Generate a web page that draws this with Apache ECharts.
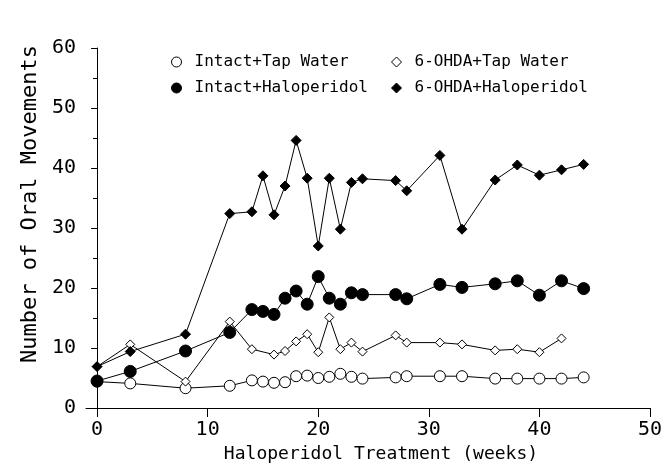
<!DOCTYPE html>
<html>
<head>
<meta charset="utf-8">
<script src="https://cdn.jsdelivr.net/npm/echarts@6/dist/echarts.min.js"></script>
<style>
  html, body { margin: 0; padding: 0; background: #fff; }
  #chart { width: 666px; height: 469px; }
</style>
</head>
<body>
<div id="chart"></div>
<script>
// weeks of haloperidol treatment (x values shared by all groups)
const weeks = [0, 3, 8, 12, 14, 15, 16, 17, 18, 19, 20, 21, 22, 23, 24, 27, 28, 31, 33, 36, 38, 40, 42, 44];

// mean oral movements per group, null = no point at that week
const intactTap  = [4.4, 4.1, 3.3, 3.7, 4.6, 4.4, 4.2, 4.3, 5.3, 5.4, 5.0, 5.2, 5.7, 5.2, 4.9, 5.1, 5.3, 5.3, 5.3, 4.9, 4.9, 4.9, 4.9, 5.1];
const intactHalo = [4.5, 6.1, 9.5, 12.6, 16.4, 16.1, 15.6, 18.3, 19.5, 17.3, 21.9, 18.3, 17.3, 19.2, 18.9, 18.9, 18.2, 20.6, 20.1, 20.7, 21.2, 18.8, 21.2, 19.9];
const ohdaTap    = [6.9, 10.6, 4.4, 14.4, 9.8, null, 8.9, 9.5, 11.1, 12.3, 9.3, 15.1, 9.8, 10.9, 9.4, 12.1, 10.9, 10.9, 10.6, 9.6, 9.8, 9.3, 11.6, null];
const ohdaHalo   = [6.9, 9.4, 12.3, 32.4, 32.7, 38.7, 32.2, 37.0, 44.6, 38.3, 27.0, 38.3, 29.8, 37.6, 38.2, 37.9, 36.2, 42.1, 29.8, 38.0, 40.5, 38.8, 39.7, 40.6];

const xTicks = [0, 10, 20, 30, 40, 50];

const font = 'DejaVu Sans Mono';

function pairs(vals) {
    const out = [];
    weeks.forEach((w, i) => {
        if (vals[i] != null) out.push([w, vals[i]]);
    });
    return out;
}

function makeSeries(name, vals, symbol, size, fill, z) {
    return {
        name: name,
        type: 'line',
        data: pairs(vals),
        symbol: symbol,
        symbolSize: size,
        showSymbol: true,
        z: z,
        lineStyle: { color: '#000', width: 1 },
        itemStyle: { color: fill, borderColor: '#000', borderWidth: 1, opacity: 1 },
        emphasis: { disabled: true }
    };
}

const chart = echarts.init(document.getElementById('chart'));

const legendText = { fontFamily: font, fontSize: 16, color: '#000', lineHeight: 20, padding: [0, 0, 0, 8] };

chart.setOption({
    animation: false,
    backgroundColor: '#fff',
    grid: { left: 86, right: 16, top: 48, bottom: 61 },
    legend: [
        {
            left: 171, top: 52, orient: 'vertical', padding: 0,
            itemWidth: 10, itemHeight: 10, itemGap: 6, selectedMode: false,
            itemStyle: { borderWidth: 1 },
            textStyle: legendText,
            data: [{ name: 'Intact+Tap Water', icon: 'circle' }, { name: 'Intact+Haloperidol', icon: 'circle' }]
        },
        {
            left: 391, top: 52, orient: 'vertical', padding: 0,
            itemWidth: 10, itemHeight: 10, itemGap: 6, selectedMode: false,
            itemStyle: { borderWidth: 1 },
            textStyle: legendText,
            data: [{ name: '6-OHDA+Tap Water', icon: 'diamond' }, { name: '6-OHDA+Haloperidol', icon: 'diamond' }]
        }
    ],
    xAxis: {
        type: 'value',
        min: -1,
        max: 50,
        name: 'Haloperidol Treatment (weeks)',
        nameLocation: 'middle',
        nameGap: 30,
        nameTextStyle: { fontFamily: font, fontSize: 18, color: '#000', padding: [0, 0, 0, 26] },
        axisLine: { show: true, lineStyle: { color: '#000', width: 1 } },
        axisTick: { show: true, length: 9, customValues: xTicks, lineStyle: { color: '#000' } },
        axisLabel: { customValues: xTicks, margin: 12, fontFamily: font, fontSize: 20, color: '#000' },
        splitLine: { show: false }
    },
    yAxis: {
        type: 'value',
        min: 0,
        max: 60,
        interval: 10,
        name: 'Number of Oral Movements',
        nameLocation: 'middle',
        nameGap: 38,
        nameTextStyle: { fontFamily: font, fontSize: 22, color: '#000', padding: [0, 0, 0, 48] },
        axisLine: { show: true, lineStyle: { color: '#000', width: 1 } },
        axisTick: { show: true, length: 6, lineStyle: { color: '#000' } },
        minorTick: { show: true, splitNumber: 2, length: 4, lineStyle: { color: '#000' } },
        axisLabel: { margin: 10, fontFamily: font, fontSize: 20, color: '#000' },
        splitLine: { show: false }
    },
    series: [
        makeSeries('Intact+Tap Water', intactTap, 'circle', 11, '#fff', 2),
        makeSeries('6-OHDA+Tap Water', ohdaTap, 'diamond', 9, '#fff', 3),
        makeSeries('Intact+Haloperidol', intactHalo, 'circle', 12, '#000', 4),
        makeSeries('6-OHDA+Haloperidol', ohdaHalo, 'diamond', 10, '#000', 5)
    ]
});
</script>
</body>
</html>
